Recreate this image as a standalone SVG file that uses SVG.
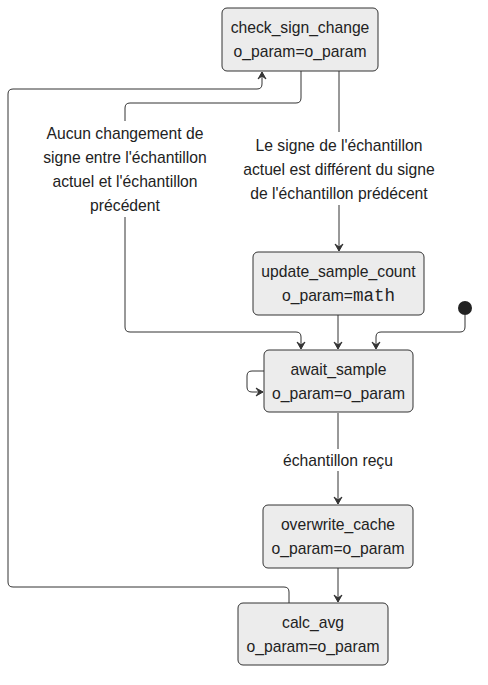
<svg xmlns="http://www.w3.org/2000/svg" width="488" height="685" viewBox="0 0 488 685">
<style>
.box{fill:#ececec;stroke:#333;stroke-width:1}
.t{font-family:"Liberation Sans",Arial,sans-serif;font-size:15.7px;fill:#222;text-anchor:middle;dominant-baseline:central}
.m{font-family:"Liberation Mono","Courier New",monospace;font-size:17.5px}
.e{fill:none;stroke:#333;stroke-width:1}
.lbg{fill:#fff}
</style>
<defs>
<marker id="arr" markerUnits="userSpaceOnUse" markerWidth="10" markerHeight="10" viewBox="0 0 10 10" refX="9" refY="5" orient="auto">
<path d="M9,5 L2,1 L5,5 L2,9 Z" fill="#333" stroke="#333" stroke-width="1" stroke-linejoin="round"/>
</marker>
</defs>
<rect width="488" height="685" fill="#fff"/>
<g id="connectors">
<path class="e" d="M339,71 V251" marker-end="url(#arr)"/>
<path class="e" d="M301,71 V98 Q301,103 296,103 H130 Q125,103 125,108 V327 Q125,332 130,332 H296 Q301,332 301,337 V349" marker-end="url(#arr)"/>
<path class="e" d="M338,315 V349" marker-end="url(#arr)"/>
<path class="e" d="M465,315 V327 Q465,332 460,332 H381 Q376,332 376,337 V349" marker-end="url(#arr)"/>
<path class="e" d="M264,371 H252 Q247,371 247,376 V387 Q247,392 252,392 H263" marker-end="url(#arr)"/>
<path class="e" d="M338,413 V504" marker-end="url(#arr)"/>
<path class="e" d="M338,568 V602" marker-end="url(#arr)"/>
<path class="e" d="M289,603 V592 Q289,587 284,587 H13 Q8,587 8,582 V94 Q8,89 13,89 H257 Q262,89 262,84 V72" marker-end="url(#arr)"/>
<circle cx="465" cy="308" r="7" fill="#222"/>
<g id="label-left">
<rect class="lbg" x="36" y="121" width="178" height="96"/>
<text class="t" x="125" y="133">Aucun changement de</text>
<text class="t" x="125" y="157">signe entre l'échantillon</text>
<text class="t" x="125" y="181">actuel et l'échantillon</text>
<text class="t" x="125" y="205">précédent</text>
</g>
<g id="label-right">
<rect class="lbg" x="238" y="132" width="202" height="73"/>
<text class="t" x="339" y="145">Le signe de l'échantillon</text>
<text class="t" x="339" y="169">actuel est différent du signe</text>
<text class="t" x="339" y="193">de l'échantillon prédécent</text>
</g>
<g id="label-recu">
<rect class="lbg" x="278" y="449" width="122" height="22"/>
<text class="t" x="338" y="460">échantillon reçu</text>
</g>
</g>
<g id="check_sign_change">
<rect class="box" x="222" y="8" width="156" height="63" rx="5"/>
<text class="t" x="300" y="27.5">check_sign_change</text>
<text class="t" x="300" y="51.5">o_param=o_param</text>
</g>
<g id="update_sample_count">
<rect class="box" x="253" y="252" width="171" height="63" rx="5"/>
<text class="t" x="338.5" y="271.5">update_sample_count</text>
<text class="t" x="338.5" y="295.5">o_param=<tspan class="m">math</tspan></text>
</g>
<g id="await_sample">
<rect class="box" x="264" y="350" width="149" height="62" rx="5"/>
<text class="t" x="338.5" y="369">await_sample</text>
<text class="t" x="338.5" y="393">o_param=o_param</text>
</g>
<g id="overwrite_cache">
<rect class="box" x="263" y="505" width="150" height="63" rx="5"/>
<text class="t" x="338" y="524.5">overwrite_cache</text>
<text class="t" x="338" y="548.5">o_param=o_param</text>
</g>
<g id="calc_avg">
<rect class="box" x="238" y="603" width="150" height="62" rx="5"/>
<text class="t" x="313" y="622">calc_avg</text>
<text class="t" x="313" y="646">o_param=o_param</text>
</g>
</svg>
